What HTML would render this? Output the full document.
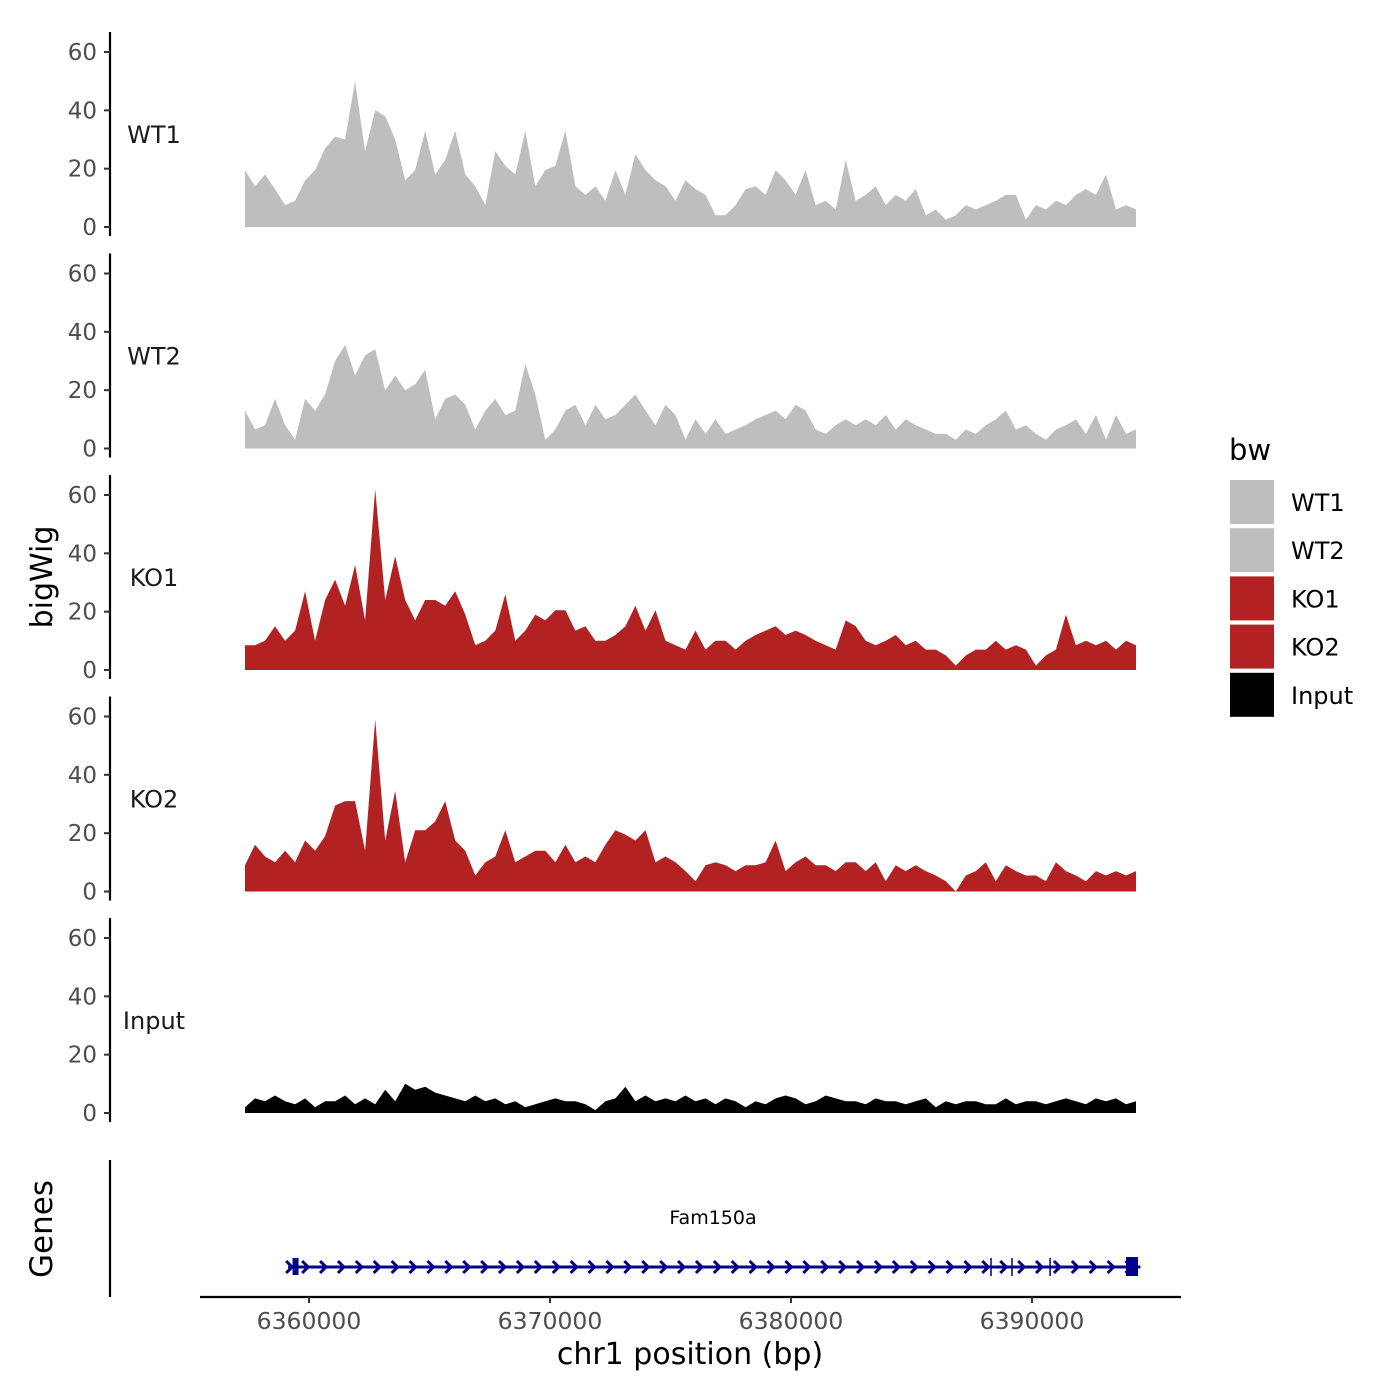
<!DOCTYPE html>
<html><head><meta charset="utf-8"><style>
html,body{margin:0;padding:0;background:#fff;}
svg{display:block;font-family:"Liberation Sans","DejaVu Sans",sans-serif;}
</style></head><body>
<svg id="chart" width="1400" height="1400" viewBox="0 0 1400 1400" xmlns="http://www.w3.org/2000/svg">
<g id="panels"></g>
<g id="genes"></g>
<g id="legend"></g>
<text x="0" y="0" transform="translate(52,577) rotate(-90)" text-anchor="middle" font-size="30" fill="#000" font-family="DejaVu Sans, sans-serif">bigWig</text>
<text x="0" y="0" transform="translate(52,1229) rotate(-90)" text-anchor="middle" font-size="31" fill="#000" font-family="DejaVu Sans, sans-serif">Genes</text>
<text x="690" y="1364" text-anchor="middle" font-size="30" fill="#000" font-family="DejaVu Sans, sans-serif">chr1 position (bp)</text>
</svg>
<script>
const trackNames = ["WT1","WT2","KO1","KO2","Input"];
const trackColors = ["#bebebe","#bebebe","#b22222","#b22222","#000000"];
const yTicks = [0,20,40,60];
const xTicks = [6360000,6370000,6380000,6390000];
const wt1 = [19.5,14,18,13,7.5,9,16,19.5,27,31,30,50,26,40,38,30,16,19.5,33,18,23,33,18,14,7.5,26,21,18,33,14,19.5,21,33,14,11,14,9,19.5,11,25,19.5,16,14,9,16,13,11,4,4,7.5,13,14,11,19.5,16,11,19.5,7.5,9,6,23,9,11,14,7.5,11,9,13,4,6,2.5,4,7.5,6,7.5,9,11,11,2.5,7.5,6,9,7.5,11,13,11,18,6,7.5,6];
const wt2 = [13,6.5,8,17,8,3,17,13,18.5,30,35.5,25,32,34,20,25,20,22,27,10,17,18.5,15,6.5,13,17,11.5,13,29,18.5,3,6.5,13,15,8,15,10,11.5,15,18.5,13,8,15,11.5,3,10,5,10,5,6.5,8,10,11.5,13,10,15,13,6.5,5,8,10,8,10,8,11.5,6.5,10,8,6.5,5,5,3,6.5,5,8,10,13,6.5,8,5,3,6.5,8,10,5,11.5,3,11.5,5,6.5];
const ko1 = [8.5,8.5,10,15,10,13.5,27,10,24,31,22,36,17,62,24,39,24,17,24,24,22,27,19,8.5,10,13.5,26,10,13.5,19,17,20.5,20.5,13.5,15,10,10,12,15,22,13.5,20.5,10,8.5,7,13.5,7,10,10,7,10,12,13.5,15,12,13.5,12,10,8.5,7,17,15,10,8.5,10,12,8.5,10,7,7,5,1.5,5,7,7,10,7,8.5,7,1.5,5,7,19,8.5,10,8.5,10,7,10,8.5];
const ko2 = [9,16,12,10,14,10,17.5,14,19,29.5,31,31,14,59,17.5,34.5,10,21,21,24,31,17.5,14,5.5,10,12,21,10,12,14,14,10,16,10,12,10,16,21,19.5,17.5,21,10,12,10,7,3.5,9,10,9,7,9,9,10,17.5,7,10,12,9,9,7,10,10,7,10,3.5,9,7,9,7,5.5,3.5,0,5.5,7,10,3.5,9,7,5.5,5.5,3.5,10,7,5.5,3.5,7,5.5,7,5.5,7];
const input = [2,5,4,6,4,3,5,2,4,4,6,3,5,3,8,4,10,8,9,7,6,5,4,6,4,5,3,4,2,3,4,5,4,4,3,1,4,5,9,4,6,4,5,4,6,4,5,3,5,4,2,4,3,5,6,5,3,4,6,5,4,4,3,5,4,4,3,4,5,2,4,3,4,4,3,3,5,3,4,4,3,4,5,4,3,5,4,5,3,4];
const series = [wt1,wt2,ko1,ko2,input];
const dataStart = 6357345, dataEnd = 6394315;
const geneStart = 6359300, geneEnd = 6394500;
const exons = [6359400, 6388300, 6389170, 6390750];

const NS="http://www.w3.org/2000/svg";
function mk(tag, attrs, parent){const e=document.createElementNS(NS,tag);for(const k in attrs)e.setAttribute(k,attrs[k]);parent.appendChild(e);return e;}
function xs(bp){return 309 + (bp-6360000)*(723/30000);}
const panelsG=document.getElementById('panels');
for(let p=0;p<5;p++){
  const base=227+p*221.5;
  const ys=v=>base - v*(175/60);
  const g=mk('g',{},panelsG);
  
  
  const ax=mk('line',{x1:110,x2:110,y1:base-195,y2:base+9,stroke:'#000','stroke-width':2.2},g);
  
  
  yTicks.forEach(t=>{
    const tk=mk('line',{x1:104,x2:110,y1:ys(t),y2:ys(t),stroke:'#333','stroke-width':2},g);
    
    
    const tl=mk('text',{x:97,y:ys(t)+8,'text-anchor':'end','font-size':23,fill:'#4d4d4d','font-family':'DejaVu Sans, sans-serif'},g);
    tl.textContent=t;
    
    
  });
  const lb=mk('text',{x:154,y:base-84,'text-anchor':'middle','font-size':24,fill:'#1a1a1a','font-family':'DejaVu Sans, sans-serif'},g);
  lb.textContent=trackNames[p];
  
  
  const d=series[p], n=d.length;
  let path='M'+xs(dataStart)+','+base;
  d.forEach((v,i)=>{const bp=dataStart+(dataEnd-dataStart)*i/(n-1);path+=' L'+xs(bp).toFixed(1)+','+ys(v).toFixed(1);});
  path+=' L'+xs(dataEnd)+','+base+' Z';
  const ar=mk('path',{d:path,fill:trackColors[p]},g);
  
  
}
// genes
const gg=document.getElementById('genes');
const gl=mk('line',{x1:110,x2:110,y1:1160,y2:1297,stroke:'#000','stroke-width':2.2},gg);


const xa=mk('line',{x1:200,x2:1181,y1:1297,y2:1297,stroke:'#000','stroke-width':2.2},gg);


xTicks.forEach(t=>{
  const tk=mk('line',{x1:xs(t),x2:xs(t),y1:1297,y2:1303,stroke:'#333','stroke-width':2},gg);
  
  
  const tl=mk('text',{x:xs(t),y:1329,'text-anchor':'middle','font-size':23.5,fill:'#4d4d4d','font-family':'DejaVu Sans, sans-serif'},gg);
  tl.textContent=t;
  
  
});
const gc='#00008b';
const gline=mk('line',{x1:xs(geneStart)-4,x2:xs(geneEnd),y1:1267,y2:1267,stroke:gc,'stroke-width':3},gg);


for(let x=xs(geneStart)+14;x<xs(geneEnd)-8;x+=17.9){
  const a=mk('path',{d:`M${x-4},${1261} L${x+2},${1267} L${x-4},${1273}`,fill:'none',stroke:gc,'stroke-width':3},gg);
  
  
}
const a0=mk('path',{d:`M${xs(geneStart)-6},1261 L${xs(geneStart)},1267 L${xs(geneStart)-6},1273`,fill:'none',stroke:gc,'stroke-width':3},gg);


const e1=mk('rect',{x:xs(exons[0])-2,y:1258,width:6,height:17,fill:gc},gg);


[exons[1],exons[2],exons[3]].forEach(b=>{
  const e=mk('line',{x1:xs(b),x2:xs(b),y1:1258,y2:1276,stroke:gc,'stroke-width':1.5},gg);
  
  
});
const e2=mk('rect',{x:1126,y:1257,width:12,height:19,fill:gc},gg);


const gn=mk('text',{x:713,y:1224,'text-anchor':'middle','font-size':19,fill:'#000','font-family':'DejaVu Sans, sans-serif'},gg);
gn.textContent='Fam150a';


// legend
const lg=document.getElementById('legend');
const lt=mk('text',{x:1229,y:460,'font-size':29,fill:'#000','font-family':'DejaVu Sans, sans-serif'},lg);
lt.textContent='bw';


trackNames.forEach((nm,i)=>{
  const y=480+i*48.2;
  const r=mk('rect',{x:1230,y:y,width:44,height:44,fill:trackColors[i]},lg);
  
  
  const t=mk('text',{x:1291,y:y+31,'font-size':24,fill:'#000','font-family':'DejaVu Sans, sans-serif'},lg);
  t.textContent=nm;
  
  
});
</script>
</body></html>
